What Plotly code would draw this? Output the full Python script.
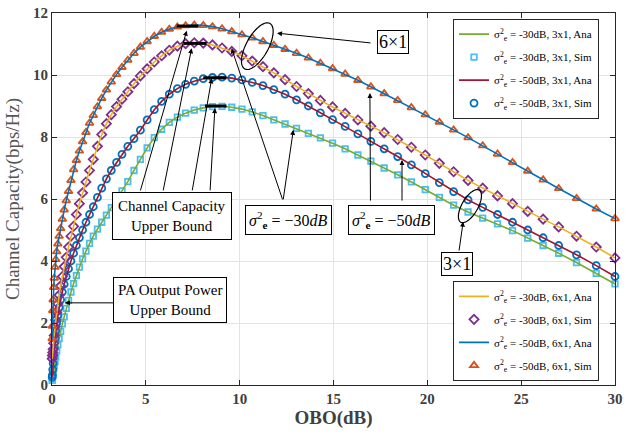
import numpy as np
import plotly.graph_objects as go

# ---------------- data ----------------
obo = [0.01, 0.02, 0.04, 0.06, 0.09, 0.12, 0.16, 0.2, 0.25, 0.31, 0.38, 0.46, 0.55, 0.65, 0.76, 0.88,
       1.01, 1.15, 1.3, 1.46, 1.63, 1.81, 2.0, 2.2, 2.42, 2.65, 2.9, 3.16, 3.44, 3.73, 4.04, 4.37,
       4.71, 5.07, 5.45, 5.84, 6.25, 6.68, 7.12, 7.58, 8.06, 8.55, 9.06, 9.58, 10.12, 10.67, 11.24,
       11.82, 12.42, 13.03, 13.66, 14.3, 14.95, 15.62, 16.3, 16.99, 17.7, 18.42, 19.15, 19.89, 20.64,
       21.4, 22.17, 22.95, 23.74, 24.54, 25.35, 26.17, 27.0, 27.95, 29.0, 30.0]

# 6x1, sigma_e^2 = -50 dB
cap_6x1_m50 = [1.5, 1.9, 2.4, 2.75, 3.15, 3.45, 3.8, 4.05, 4.3, 4.55, 4.8, 5.05, 5.35, 5.65, 5.95, 6.25,
               6.6, 6.95, 7.25, 7.55, 7.85, 8.15, 8.45, 8.7, 8.98, 9.25, 9.52, 9.78, 10.02, 10.25, 10.48, 10.7,
               10.9, 11.08, 11.25, 11.38, 11.48, 11.55, 11.59, 11.61, 11.6, 11.56, 11.49, 11.4, 11.3, 11.2, 11.08,
               10.96, 10.83, 10.7, 10.55, 10.38, 10.21, 10.03, 9.83, 9.62, 9.4, 9.18, 8.95, 8.72, 8.48,
               8.23, 7.98, 7.72, 7.45, 7.18, 6.9, 6.62, 6.34, 6.02, 5.68, 5.37]
# 6x1, sigma_e^2 = -30 dB
cap_6x1_m30 = [0.85, 0.95, 1.05, 1.15, 1.35, 1.6, 1.88, 2.1, 2.35, 2.62, 2.9, 3.2, 3.5, 3.82, 4.12, 4.45,
               4.8, 5.12, 5.5, 5.85, 6.2, 6.55, 6.92, 7.28, 7.7, 8.08, 8.43, 8.72, 8.98, 9.22, 9.46, 9.72,
               9.97, 10.2, 10.42, 10.62, 10.8, 10.93, 11.01, 11.04, 11.03, 10.97, 10.87, 10.76, 10.62, 10.45, 10.27,
               10.07, 9.85, 9.63, 9.4, 9.18, 8.97, 8.76, 8.55, 8.35, 8.14, 7.92, 7.67, 7.42, 7.15,
               6.88, 6.6, 6.35, 6.1, 5.85, 5.6, 5.35, 5.1, 4.8, 4.45, 4.1]
# 3x1, sigma_e^2 = -50 dB
cap_3x1_m50 = [0.25, 0.32, 0.5, 0.7, 0.95, 1.2, 1.5, 1.75, 2.0, 2.25, 2.5, 2.75, 3.0, 3.25, 3.5, 3.75,
               4.0, 4.25, 4.5, 4.75, 5.0, 5.25, 5.5, 5.75, 6.05, 6.35, 6.65, 6.92, 7.18, 7.44, 7.7, 7.95,
               8.22, 8.55, 8.88, 9.15, 9.38, 9.56, 9.7, 9.8, 9.88, 9.92, 9.93, 9.9, 9.84, 9.76, 9.66,
               9.53, 9.38, 9.2, 9.0, 8.78, 8.56, 8.34, 8.1, 7.86, 7.62, 7.37, 7.1, 6.82, 6.53,
               6.24, 5.97, 5.73, 5.5, 5.25, 5.0, 4.75, 4.5, 4.2, 3.85, 3.5]
# 3x1, sigma_e^2 = -30 dB
cap_3x1_m30 = [0.15, 0.2, 0.3, 0.4, 0.52, 0.62, 0.75, 0.9, 1.1, 1.3, 1.5, 1.73, 1.97, 2.2, 2.47, 2.73,
               3.0, 3.27, 3.53, 3.8, 4.07, 4.32, 4.57, 4.8, 5.03, 5.25, 5.48, 5.72, 5.98, 6.26, 6.56, 6.92,
               7.28, 7.65, 7.98, 8.25, 8.47, 8.64, 8.77, 8.87, 8.94, 8.98, 8.99, 8.96, 8.9, 8.81, 8.69,
               8.55, 8.42, 8.28, 8.12, 7.97, 7.8, 7.62, 7.42, 7.22, 7.0, 6.78, 6.55, 6.3, 6.05,
               5.8, 5.58, 5.38, 5.2, 4.98, 4.74, 4.5, 4.25, 3.95, 3.6, 3.26]

# upper-bound markers (x start, x end, y)
ub_x0 = [6.64, 7.0, 8.06, 8.15]
ub_x1 = [7.8, 8.24, 9.3, 9.3]
ub_y = [11.58, 11.02, 9.91, 9.0]

x_ticks = [0, 5, 10, 15, 20, 25, 30]
y_ticks = [0, 2, 4, 6, 8, 10, 12]

# ---------------- style ----------------
SERIF = "Liberation Serif, Times New Roman, serif"
C_BLUE, C_ORANGE, C_YELLOW = "#0072BD", "#D95319", "#EDB120"
C_PURPLE, C_GREEN, C_CYAN, C_RED = "#7E2F8E", "#77AC30", "#4DBEEE", "#A2142F"
SIG = "σ<sup>2</sup><sub>e</sub>"

fig = go.Figure()

def ana(y, color, name, legend, rank):
    fig.add_trace(go.Scatter(x=obo, y=y, mode="lines", line=dict(color=color, width=1.6),
                             name=name, legend=legend, legendrank=rank, legendgroup=name))

def sim(y, color, symbol, size, name, legend, rank):
    fig.add_trace(go.Scatter(x=obo, y=y, mode="markers", cliponaxis=False,
                             marker=dict(symbol=symbol, size=size, color=color,
                                         line=dict(color=color, width=1.8)),
                             name=name, legend=legend, legendrank=rank, legendgroup=name))

sim(cap_3x1_m30, C_CYAN, "square-open", 5.5, f"{SIG} = -30dB, 3x1, Sim", "legend", 2)
ana(cap_3x1_m30, C_GREEN, f"{SIG} = -30dB, 3x1, Ana", "legend", 1)
sim(cap_3x1_m50, C_BLUE, "circle-open", 7, f"{SIG} = -50dB, 3x1, Sim", "legend", 4)
ana(cap_3x1_m50, C_RED, f"{SIG} = -50dB, 3x1, Ana", "legend", 3)
sim(cap_6x1_m30, C_PURPLE, "diamond-open", 7, f"{SIG} = -30dB, 6x1, Sim", "legend2", 2)
ana(cap_6x1_m30, C_YELLOW, f"{SIG} = -30dB, 6x1, Ana", "legend2", 1)
sim(cap_6x1_m50, C_ORANGE, "triangle-up-open", 7, f"{SIG} = -50dB, 6x1, Sim", "legend2", 4)
ana(cap_6x1_m50, C_BLUE, f"{SIG} = -50dB, 6x1, Ana", "legend2", 3)

# upper-bound bars
for a, b, yv in zip(ub_x0, ub_x1, ub_y):
    fig.add_shape(type="line", x0=a, x1=b, y0=yv, y1=yv, xref="x", yref="y",
                  line=dict(color="black", width=3))

# ellipses (pixel-based geometry converted to data units)
PX_X, PX_Y = 563 / 30.0, 372 / 12.0
def ellipse(cx, cy, a, b, ang):
    t = np.linspace(0, 2 * np.pi, 60)
    th = np.deg2rad(ang)
    ex = a * np.cos(t) * np.cos(th) - b * np.sin(t) * np.sin(th)
    ey = a * np.cos(t) * np.sin(th) + b * np.sin(t) * np.cos(th)
    xs = cx + ex / PX_X
    ys = cy + ey / PX_Y
    p = "M " + " L ".join(f"{x:.4f},{y:.4f}" for x, y in zip(xs, ys)) + " Z"
    fig.add_shape(type="path", path=p, xref="x", yref="y", line=dict(color="black", width=1.2))

ellipse(10.94, 10.93, 26, 11, 61)
ellipse(22.27, 5.77, 18.5, 8, 60)

def arrow(x, y, ax, ay):
    fig.add_annotation(x=x, y=y, ax=ax, ay=ay, xref="x", yref="y", axref="x", ayref="y",
                       showarrow=True, arrowhead=2, arrowsize=1, arrowwidth=1, arrowcolor="black",
                       text="")

def box(x, y, text, size, pad=4):
    fig.add_annotation(x=x, y=y, xref="x", yref="y", text=text, showarrow=False,
                       font=dict(family=SERIF, size=size, color="black"),
                       bgcolor="white", bordercolor="black", borderwidth=1, borderpad=pad)

# Channel capacity upper bound
for hx, hy, tx in zip([7.18, 7.44, 8.51, 8.68], [11.43, 10.86, 9.89, 8.93], [4.69, 5.91, 7.46, 8.42]):
    arrow(hx, hy, tx, 6.23)
box(6.37, 5.45, "Channel Capacity<br>Upper Bound", 15, 5)

# PA output power upper bound
arrow(0.69, 2.65, 3.36, 2.65)
box(6.29, 2.74, "PA Output Power<br>Upper Bound", 15, 4)

# sigma -30
arrow(9.57, 10.86, 12.31, 5.94)
arrow(12.86, 8.23, 12.31, 5.94)
box(12.6, 5.32, "<i>σ</i><sup>2</sup><sub><b>e</b></sub> = −30<i>dB</i>", 16, 3)

# sigma -50
arrow(16.94, 9.42, 16.97, 5.9)
arrow(18.65, 7.26, 18.65, 5.9)
box(18.09, 5.32, "<i>σ</i><sup>2</sup><sub><b>e</b></sub> = −50<i>dB</i>", 16, 3)

# 6x1
arrow(11.99, 11.35, 17.05, 11.03)
box(18.19, 11.08, "6×1", 18, 1)

# 3x1
arrow(21.91, 5.27, 21.68, 4.29)
box(21.6, 3.89, "3×1", 18, 1)

axis_common = dict(showline=True, linecolor="#262626", linewidth=1, mirror="ticks",
                   ticks="inside", ticklen=5, tickcolor="#262626", showgrid=True,
                   gridcolor="#e3e3e3", gridwidth=1, zeroline=False, automargin=False,
                   tickfont=dict(family=SERIF, size=15, color="#404040", weight="bold"))

fig.update_layout(
    width=631, height=435, autosize=False,
    margin=dict(l=52, r=16, t=13, b=50),
    paper_bgcolor="white", plot_bgcolor="white",
    font=dict(family=SERIF),
    xaxis=dict(range=[0, 30], tickvals=x_ticks, ticktext=[str(v) for v in x_ticks],
               title=dict(text="OBO(dB)", font=dict(family=SERIF, size=19, color="#404040", weight="bold"),
                          standoff=4),
               **axis_common),
    yaxis=dict(range=[0, 12], tickvals=y_ticks, ticktext=[str(v) for v in y_ticks],
               title=dict(text="Channel Capacity(bps/Hz)", font=dict(family=SERIF, size=19, color="#555555"),
                          standoff=8),
               **axis_common),
    legend=dict(x=0.9716, y=0.985, xanchor="right", yanchor="top", bgcolor="white",
                bordercolor="#262626", borderwidth=1, font=dict(family=SERIF, size=11, color="black"),
                itemwidth=30, tracegroupgap=4, traceorder="grouped"),
    legend2=dict(x=0.9716, y=0.28, xanchor="right", yanchor="top", bgcolor="white",
                 bordercolor="#262626", borderwidth=1, font=dict(family=SERIF, size=11, color="black"),
                 itemwidth=30, tracegroupgap=4, traceorder="grouped"),
)

fig.write_html("out.html")
